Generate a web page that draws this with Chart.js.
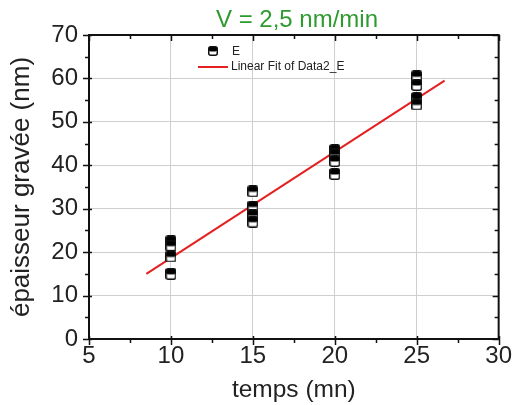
<!DOCTYPE html>
<html>
<head>
<meta charset="utf-8">
<script src="https://cdn.jsdelivr.net/npm/chart.js@4"></script>
<style>
html, body { margin: 0; padding: 0; background: #fff; }
</style>
</head>
<body>
<canvas id="chart" width="515" height="405"></canvas>
<script>
// measured points (temps in mn, epaisseur in nm)
const timeE  = [10, 10, 10, 10, 15, 15, 15, 15, 20, 20, 20, 20, 25, 25, 25, 25];
const depthE = [22.5, 21.5, 19, 15, 34, 30.5, 28.5, 27, 43.5, 42.5, 41, 38, 60.5, 58.5, 55.5, 54];

// linear fit end points
const fitX = [8.5, 26.7];
const fitY = [15, 59.5];

const xTicks = [5, 10, 15, 20, 25, 30];
const yTicks = [0, 10, 20, 30, 40, 50, 60, 70];

const titleText = 'V = 2,5 nm/min';
const FONT = '"Liberation Sans", Arial, sans-serif';

// half black / half white square marker
function makeMarker(w, h) {
    const c = document.createElement('canvas');
    c.width = w; c.height = h;
    const g = c.getContext('2d');
    g.fillStyle = '#fff';
    g.beginPath();
    g.roundRect(0.75, 0.75, w - 1.5, h - 1.5, 2);
    g.fill();
    g.fillStyle = '#000';
    g.beginPath();
    g.roundRect(0.75, 0.75, w - 1.5, h * 0.48, 2);
    g.fill();
    g.strokeStyle = '#111';
    g.lineWidth = 1.5;
    g.beginPath();
    g.roundRect(0.75, 0.75, w - 1.5, h - 1.5, 2);
    g.stroke();
    return c;
}
const marker = makeMarker(11, 12);
const legendMarker = makeMarker(10, 10);

const frameAndTicks = {
    id: 'frameAndTicks',
    afterDraw(chart) {
        const ctx = chart.ctx;
        const a = chart.chartArea;
        const xs = chart.scales.x, ys = chart.scales.y;
        ctx.save();
        ctx.strokeStyle = '#111';
        ctx.lineWidth = 2;
        ctx.strokeRect(a.left, a.top, a.right - a.left, a.bottom - a.top);

        ctx.lineWidth = 1.5;
        ctx.beginPath();
        // x ticks
        for (let v = 5; v <= 30; v += 2.5) {
            const px = Math.round(xs.getPixelForValue(v)) + 0.5;
            const major = v % 5 === 0;
            if (major) {
                ctx.moveTo(px, a.bottom - 3); ctx.lineTo(px, a.bottom + 6);
                ctx.moveTo(px, a.top); ctx.lineTo(px, a.top + 6);
            } else {
                ctx.moveTo(px, a.bottom); ctx.lineTo(px, a.bottom + 4);
                ctx.moveTo(px, a.top); ctx.lineTo(px, a.top + 4);
            }
        }
        // y ticks
        for (let v = 0; v <= 70; v += 5) {
            const py = Math.round(ys.getPixelForValue(v)) + 0.5;
            const major = v % 10 === 0;
            if (major) {
                ctx.moveTo(a.left - 6, py); ctx.lineTo(a.left + 3, py);
                ctx.moveTo(a.right - 6, py); ctx.lineTo(a.right, py);
            } else {
                ctx.moveTo(a.left - 4, py); ctx.lineTo(a.left, py);
                ctx.moveTo(a.right - 4, py); ctx.lineTo(a.right, py);
            }
        }
        ctx.stroke();

        // title
        ctx.fillStyle = '#2f9a2f';
        ctx.font = '24px ' + FONT;
        ctx.textAlign = 'center';
        ctx.textBaseline = 'middle';
        ctx.fillText(titleText, 297, 20);

        // legend
        ctx.drawImage(legendMarker, 208, 46);
        ctx.fillStyle = '#222';
        ctx.font = '12px ' + FONT;
        ctx.textAlign = 'left';
        ctx.fillText('E', 232, 52);
        ctx.strokeStyle = '#e52020';
        ctx.lineWidth = 2;
        ctx.beginPath();
        ctx.moveTo(198, 67); ctx.lineTo(228, 67);
        ctx.stroke();
        ctx.fillText('Linear Fit of Data2_E', 231, 67);
        ctx.restore();
    }
};

const gridColor = (lo, hi) => ctx =>
    (ctx.tick && (ctx.tick.value === lo || ctx.tick.value === hi)) ? 'rgba(0,0,0,0)' : '#cfcfcf';

new Chart(document.getElementById('chart'), {
    type: 'scatter',
    data: {
        datasets: [{
            label: 'E',
            data: timeE.map((t, i) => ({ x: t, y: depthE[i] })),
            pointStyle: marker,
            order: 1
        }, {
            type: 'line',
            label: 'Linear Fit of Data2_E',
            data: fitX.map((t, i) => ({ x: t, y: fitY[i] })),
            borderColor: '#e52020',
            borderWidth: 2,
            pointRadius: 0,
            fill: false,
            order: 2
        }]
    },
    options: {
        responsive: false,
        animation: false,
        layout: { padding: { top: 35, right: 16, left: 0, bottom: 0 } },
        plugins: {
            legend: { display: false },
            tooltip: { enabled: false },
            title: { display: false }
        },
        scales: {
            x: {
                type: 'linear',
                min: 5, max: 30,
                afterBuildTicks: s => { s.ticks = xTicks.map(v => ({ value: v })); },
                afterFit: s => { s.height = 66; },
                grid: { color: gridColor(5, 30), drawTicks: false, lineWidth: 1 },
                border: { display: false },
                ticks: { color: '#222', font: { family: FONT, size: 24 }, padding: 3, maxRotation: 0 },
                title: { display: true, text: 'temps (mn)', color: '#222', font: { family: FONT, size: 24.5 }, padding: { top: 0, bottom: 0 } }
            },
            y: {
                type: 'linear',
                min: 0, max: 70,
                afterBuildTicks: s => { s.ticks = yTicks.map(v => ({ value: v })); },
                afterFit: s => { s.width = 89; },
                grid: { color: gridColor(0, 70), drawTicks: false, lineWidth: 1 },
                border: { display: false },
                ticks: { color: '#222', font: { family: FONT, size: 24 }, padding: 11 },
                title: { display: true, text: 'épaisseur gravée (nm)', color: '#222', font: { family: FONT, size: 26 }, padding: { top: 6, bottom: 0 } }
            }
        }
    },
    plugins: [frameAndTicks]
});
</script>
</body>
</html>
